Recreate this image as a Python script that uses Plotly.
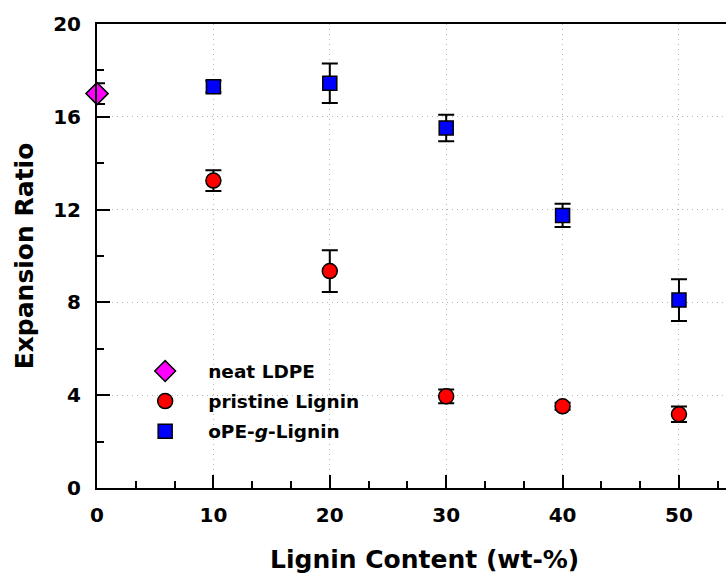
import plotly.graph_objects as go

# Data
ldpe_x = [0]
ldpe_y = [17.0]
ldpe_err = [0.45]

lignin_x = [10, 20, 30, 40, 50]
lignin_y = [13.25, 9.35, 3.95, 3.52, 3.18]
lignin_err = [0.45, 0.9, 0.3, 0.15, 0.33]

ope_x = [10, 20, 30, 40, 50]
ope_y = [17.3, 17.45, 15.52, 11.75, 8.1]
ope_err = [0.25, 0.85, 0.57, 0.5, 0.9]

x_ticks = [0, 10, 20, 30, 40, 50]
y_ticks = [0, 4, 8, 12, 16, 20]

FONT = "DejaVu Sans, Verdana, sans-serif"

def err(v):
    return dict(type="data", array=v, visible=True, color="black", thickness=2, width=8)

fig = go.Figure()
fig.add_trace(go.Scatter(
    x=ldpe_x, y=ldpe_y, mode="markers", name="<b>neat LDPE</b>", legendgroup="a",
    error_y=err(ldpe_err), cliponaxis=False,
    marker=dict(symbol="diamond", size=17, color="#FF00FF", line=dict(color="black", width=1.5)),
))
fig.add_trace(go.Scatter(
    x=lignin_x, y=lignin_y, mode="markers", name="<b>pristine Lignin</b>", legendgroup="b",
    error_y=err(lignin_err), cliponaxis=False,
    marker=dict(symbol="circle", size=15, color="#FF0000", line=dict(color="black", width=1.5)),
))
fig.add_trace(go.Scatter(
    x=ope_x, y=ope_y, mode="markers", name="<b>oPE-<i>g</i>-Lignin</b>", legendgroup="c",
    error_y=err(ope_err), cliponaxis=False,
    marker=dict(symbol="square", size=14, color="#0000FF", line=dict(color="black", width=1.5)),
))

grid = dict(showgrid=True, gridcolor="#b4b4b4", griddash="1px,4px", gridwidth=1)

fig.update_layout(
    width=726, height=575,
    margin=dict(l=97, r=0, t=24, b=87),
    plot_bgcolor="white", paper_bgcolor="white",
    font=dict(family=FONT, color="black"),
    showlegend=True,
    legend=dict(
        x=0.04, y=0.292, xanchor="left", yanchor="top",
        bgcolor="rgba(0,0,0,0)", font=dict(size=18.5, family=FONT, color="black"),
        itemwidth=76, tracegroupgap=3,
    ),
    xaxis=dict(
        range=[0, 54.04], tickvals=x_ticks, ticktext=[f"<b>{v}</b>" for v in x_ticks],
        showline=True, linecolor="black", linewidth=2, mirror=True,
        ticks="inside", ticklen=13, tickwidth=2, tickcolor="black",
        minor=dict(dtick=10/3, tick0=0, ticks="inside", ticklen=7, tickwidth=1.5, tickcolor="black", showgrid=False),
        zeroline=False, ticklabelstandoff=8,
        tickfont=dict(size=20, family=FONT),
        **grid,
    ),
    yaxis=dict(
        range=[0, 20], tickvals=y_ticks, ticktext=[f"<b>{v}</b>" for v in y_ticks],
        showline=True, linecolor="black", linewidth=2,
        ticks="inside", ticklen=13, tickwidth=2, tickcolor="black",
        minor=dict(dtick=2, tick0=0, ticks="inside", ticklen=7, tickwidth=1.5, tickcolor="black", showgrid=False),
        zeroline=False, ticklabelstandoff=10,
        tickfont=dict(size=20, family=FONT),
        title=dict(text="<b>Expansion Ratio</b>", font=dict(size=25, family=FONT), standoff=12),
        **grid,
    ),
    annotations=[dict(
        text="<b>Lignin Content (wt-%)</b>", xref="paper", yref="paper",
        x=0.52, y=-0.155, xanchor="center", yanchor="middle", showarrow=False,
        font=dict(size=25, family=FONT, color="black"),
    )],
)

fig.write_html("out.html")
